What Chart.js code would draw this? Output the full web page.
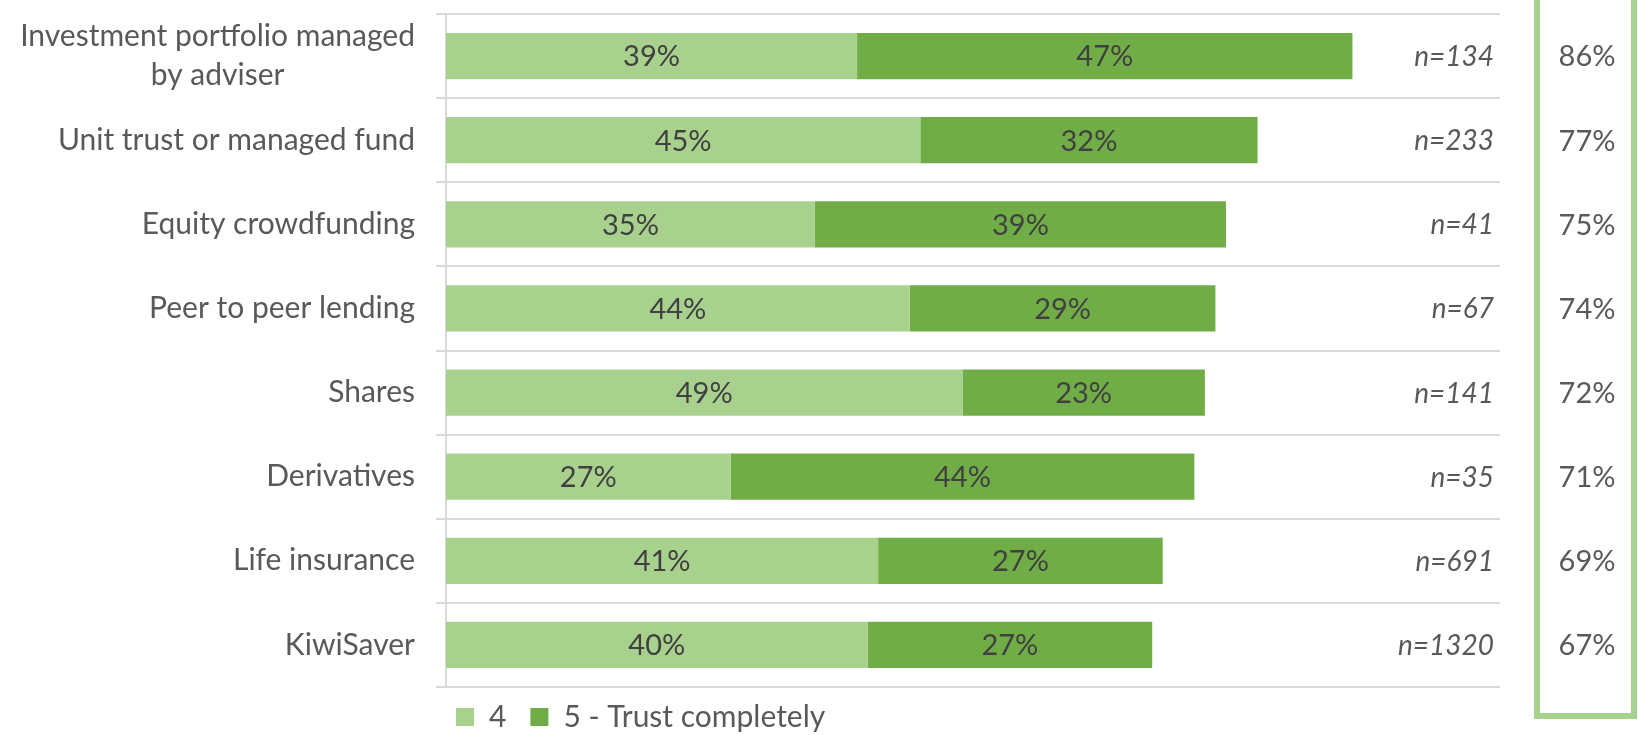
<!DOCTYPE html>
<html>
<head>
<meta charset="utf-8">
<script src="https://cdn.jsdelivr.net/npm/chart.js@4.4.1/dist/chart.umd.min.js"></script>
<style>
  html, body { margin: 0; padding: 0; background: #ffffff; }
  #wrap { width: 1638px; height: 735px; }
</style>
</head>
<body>
<div id="wrap"><canvas id="trustChart" width="1638" height="735"></canvas></div>
<script>
// Product categories (first one wraps onto two lines)
const categories = [
  ['Investment portfolio managed', 'by adviser'],
  'Unit trust or managed fund',
  'Equity crowdfunding',
  'Peer to peer lending',
  'Shares',
  'Derivatives',
  'Life insurance',
  'KiwiSaver'
];
// Share of respondents rating 4 and 5 (%)
const rating4 = [39, 45, 35, 44, 49, 27, 41, 40];
const rating5 = [47, 32, 39, 29, 23, 44, 27, 27];
// Combined 4 + 5 figure shown in the side panel (%)
const netTrust = [86, 77, 75, 74, 72, 71, 69, 67];
// Sample sizes
const sampleSizes = [134, 233, 41, 67, 141, 35, 691, 1320];
const seriesNames = ['4', '5 - Trust completely'];

const FONT = 'Lato';
const AXIS_SIZE = 30;
const LIGHT = '#A9D18E';
const DARK = '#70AD47';
const TEXT = '#595959';
const LABEL = '#404040';
const GRID = '#D9D9D9';

// Centre the lines of a multi-line axis label against each other
const measureCtx = document.createElement('canvas').getContext('2d');
measureCtx.font = AXIS_SIZE + 'px ' + FONT;
function centreLines(lines) {
  if (!Array.isArray(lines)) return lines;
  const widths = lines.map(l => measureCtx.measureText(l).width);
  const widest = Math.max(...widths);
  const space = measureCtx.measureText(' ').width;
  return lines.map((l, i) => l + ' '.repeat(Math.round((widest - widths[i]) / 2 / space)));
}

const barLabels = {
  id: 'barLabels',
  afterDatasetsDraw(chart) {
    const ctx = chart.ctx;
    ctx.save();
    ctx.font = '29px ' + FONT;
    ctx.fillStyle = LABEL;
    ctx.textAlign = 'center';
    ctx.textBaseline = 'middle';
    chart.data.datasets.forEach((ds, di) => {
      const meta = chart.getDatasetMeta(di);
      meta.data.forEach((bar, i) => {
        const p = bar.getProps(['x', 'y', 'base'], true);
        ctx.fillText(ds.data[i] + '%', (p.x + p.base) / 2, p.y + 1);
      });
    });
    ctx.restore();
  }
};

const sidePanel = {
  id: 'sidePanel',
  afterDraw(chart) {
    const ctx = chart.ctx;
    const yScale = chart.scales.y;
    const area = chart.chartArea;
    ctx.save();
    ctx.textBaseline = 'middle';
    // sample sizes at the right end of the plot
    ctx.font = 'italic 28px ' + FONT;
    ctx.fillStyle = TEXT;
    ctx.textAlign = 'right';
    sampleSizes.forEach((n, i) => {
      ctx.fillText('n=' + n, area.right - 6, yScale.getPixelForValue(i) + 1);
    });
    // outlined panel with the combined percentages
    ctx.strokeStyle = LIGHT;
    ctx.lineWidth = 6;
    ctx.strokeRect(1537, -10, 97, 726);
    ctx.font = '29px ' + FONT;
    ctx.textAlign = 'center';
    netTrust.forEach((v, i) => {
      ctx.fillText(v + '%', 1587, yScale.getPixelForValue(i) + 1);
    });
    ctx.restore();
  }
};

// Place the legend under the plot, starting just right of the axis line
const legendPlacement = {
  id: 'legendPlacement',
  afterLayout(chart) {
    const lg = chart.legend;
    const pad = lg.options.labels.padding;
    const size = lg.options.labels.font.size;
    lg.left = 456 - pad;
    lg.top = 717 - size / 2 - pad;
    lg.right = chart.width;
    lg.bottom = chart.height;
    lg.width = lg.right - lg.left;
    lg.height = lg.bottom - lg.top;
  }
};

new Chart(document.getElementById('trustChart'), {
  type: 'bar',
  data: {
    labels: categories,
    datasets: [
      { label: seriesNames[0], data: rating4, backgroundColor: LIGHT, borderWidth: 0 },
      { label: seriesNames[1], data: rating5, backgroundColor: DARK, borderWidth: 0 }
    ]
  },
  options: {
    indexAxis: 'y',
    responsive: false,
    devicePixelRatio: 1,
    animation: false,
    barPercentage: 0.55,
    categoryPercentage: 1,
    layout: { padding: { top: 14, right: 138, bottom: 0, left: 0 } },
    scales: {
      x: {
        stacked: true,
        min: 0,
        max: 100,
        display: false
      },
      y: {
        stacked: true,
        grid: { color: GRID, lineWidth: 2, tickLength: 10, offset: true },
        border: { color: GRID, width: 2 },
        ticks: {
          font: { family: FONT, size: AXIS_SIZE, lineHeight: 1.3 },
          color: TEXT,
          padding: 21,
          autoSkip: false,
          callback: function (value) { return centreLines(this.getLabelForValue(value)); }
        },
        afterFit(scale) {
          scale.width = 446;
          scale.paddingTop = 0;
          scale.paddingBottom = 0;
        }
      }
    },
    plugins: {
      legend: {
        position: 'bottom',
        align: 'start',
        maxHeight: 48,
        labels: {
          font: { family: FONT, size: 30 },
          color: TEXT,
          boxWidth: 18,
          boxHeight: 18,
          padding: 24
        }
      },
      tooltip: { enabled: false }
    }
  },
  plugins: [barLabels, sidePanel, legendPlacement]
});
</script>
</body>
</html>
